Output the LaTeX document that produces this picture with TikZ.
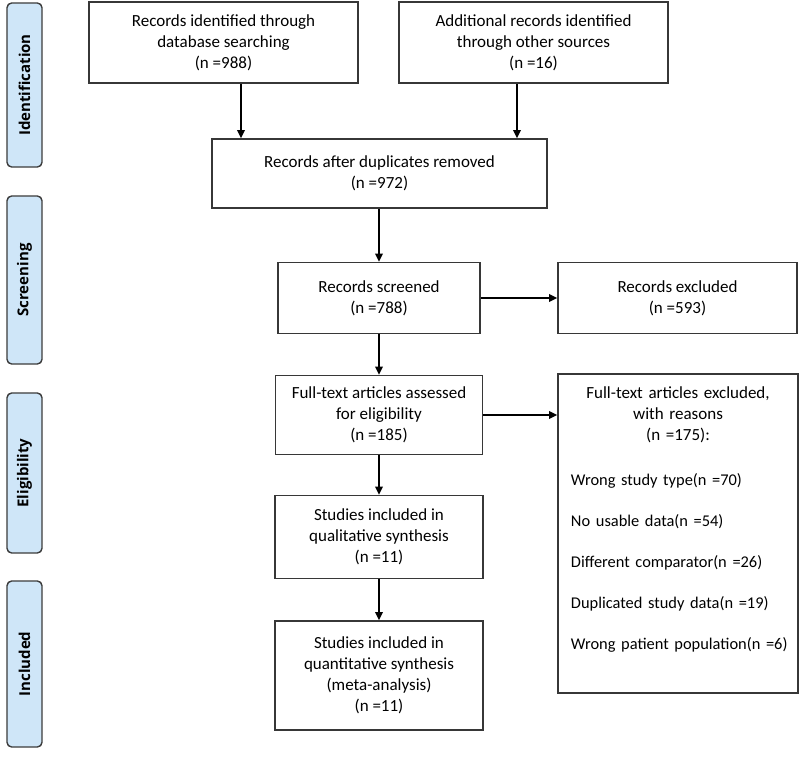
\documentclass[tikz,border=0pt]{standalone}
\usepackage{fontspec}
\setmainfont{Carlito}
\newfontfamily\phasefont{Open Sans}
\usetikzlibrary{arrows.meta}
\definecolor{phasefill}{RGB}{207,230,248}
\definecolor{phaseline}{RGB}{60,60,60}
\definecolor{boxline}{RGB}{55,55,55}
\tikzset{
  box/.style={draw=boxline, line width=1.3pt, inner sep=0pt, align=center,
    font=\fontsize{14.5}{18}\selectfont},
  phase/.style={draw=phaseline, fill=phasefill, line width=1.2pt, rounded corners=4pt,
    rotate=90, inner sep=0pt, minimum height=1.05cm,
    font=\phasefont\bfseries\fontsize{12.8}{15}\selectfont},
  arr/.style={-{Triangle[length=7pt,width=6.5pt]}, line width=1.6pt, draw=black}
}
\begin{document}
\begin{tikzpicture}[x=0.03cm, y=-0.03cm]
            \useasboundingbox (0,0) rectangle (800,757);
            % phases on the left
            \node[phase, minimum width=4.92cm] (ident) at (24.5,85) {Identification};
            \node[phase, minimum width=5.04cm] (screen) at (24.5,280) {Screening};
            \node[phase, minimum width=4.80cm] (elig) at (24.5,473) {Eligibility};
            \node[phase, minimum width=4.98cm] (incl) at (24.5,664) {Included};
            % identification
            \node[box, minimum width=8.07cm, minimum height=2.43cm] (dbrec) at (223.5,42.5)
                {Records identified through\\ database searching\\ (n =988)};
            \node[box, minimum width=8.07cm, minimum height=2.43cm] (otherrec) at (533.5,42.5)
                {Additional records identified\\ through other sources\\ (n =16)};
            \node[box, minimum width=10.05cm, minimum height=2.07cm] (dedup) at (379.5,173.5)
                {Records after duplicates removed\\ (n =972)};
            % screening
            \node[box, minimum width=6.06cm, minimum height=2.13cm] (screened) at (379,298)
                {Records screened\\ (n =788)};
            \node[box, minimum width=7.17cm, minimum height=2.13cm] (recexcl) at (677.5,298)
                {Records excluded\\ (n =593)};
            % eligibility
            \node[box, minimum width=6.21cm, minimum height=2.37cm] (fulltext) at (379,415)
                {Full-text articles assessed\\ for eligibility\\ (n =185)};
            \node[box, minimum width=7.2cm, minimum height=9.57cm, text width=6.42cm,
                  inner xsep=0.39cm, align=left, anchor=north] (ftexcl) at (678,373)
                {{\centering Full-text articles excluded,\\ with reasons\\ (n =175):\par}
                 \vspace{3pt}
                 {\fontsize{14}{35}\selectfont
                 \mbox{Wrong study type(n =70)}\\
                 \mbox{No usable data(n =54)}\\
                 \mbox{Different comparator(n =26)}\\
                 \mbox{Duplicated study data(n =19)}\\
                 \mbox{Wrong patient population(n =6)}\rule[-0.9cm]{0pt}{0.9cm}\par}};
            \node[box, minimum width=6.24cm, minimum height=2.49cm] (qualit) at (379,537)
                {Studies included in\\ qualitative synthesis\\ (n =11)};
            % included
            \node[box, minimum width=6.24cm, minimum height=3.27cm] (quantit) at (379,675.5)
                {Studies included in\\ quantitative synthesis\\ (meta-analysis)\\ (n =11)};
            % connectors
            \coordinate (leftin) at (241,0);
            \coordinate (rightin) at (517,0);
            \draw[arr] (dbrec.south -| leftin) -- (dedup.north -| leftin);
            \draw[arr] (otherrec.south -| rightin) -- (dedup.north -| rightin);
            \draw[arr] (dedup.south -| screened) -- (screened.north);
            \draw[arr] (screened) -- (recexcl);
            \draw[arr] (screened.south -| fulltext) -- (fulltext.north);
            \draw[arr] (fulltext.east) -- (fulltext.east -| ftexcl.west);
            \draw[arr] (fulltext.south -| qualit) -- (qualit.north);
            \draw[arr] (qualit) -- (quantit);
        \end{tikzpicture}
\end{document}
